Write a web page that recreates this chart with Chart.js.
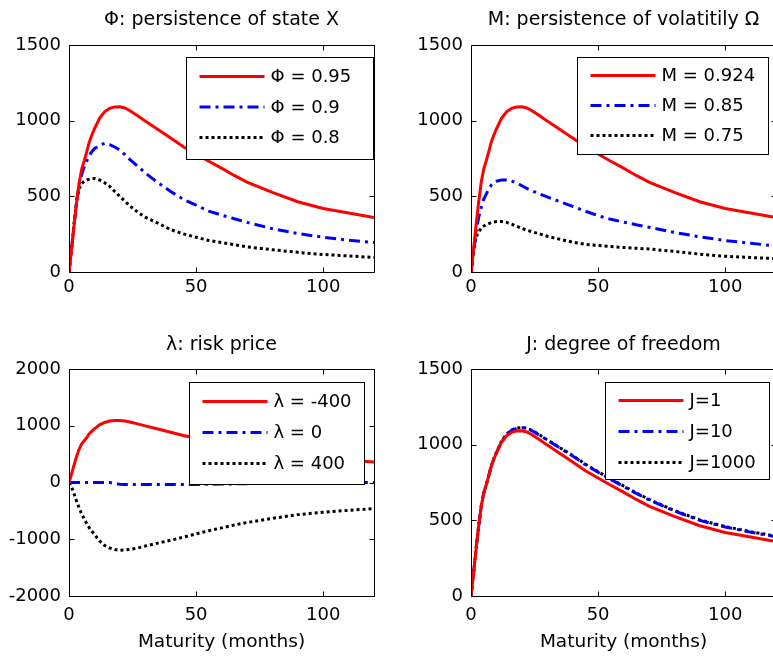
<!DOCTYPE html>
<html><head><meta charset="utf-8">
<script src="https://cdn.jsdelivr.net/npm/chart.js@4.4.1/dist/chart.umd.min.js"></script>
<style>
html,body{margin:0;padding:0;background:#fff;overflow:hidden;width:773px;height:656px;position:relative;}
.p{position:absolute;}
</style></head><body>
<div class="p" style="left:0;top:0;width:390px;height:320px"><canvas id="c1"></canvas></div>
<div class="p" style="left:390px;top:0;width:390px;height:320px"><canvas id="c2"></canvas></div>
<div class="p" style="left:0;top:320px;width:390px;height:336px"><canvas id="c3"></canvas></div>
<div class="p" style="left:390px;top:320px;width:390px;height:336px"><canvas id="c4"></canvas></div>
<script>
// ---- data ----
const maturities = [0,1,2,3,4,5,6,7,8,9,10,12,14,16,18,20,22,24,27,30,35,40,45,50,55,60,65,70,80,90,100,110,120];
// base case (red curve in every panel)
const baseCase = [0,150,310,460,590,680,735,795,860,905,945,1015,1058,1082,1091,1092,1084,1066,1033,997,942,886,828,780,732,686,638,594,526,464,420,390,360];
// panel 1: Phi
const phi09 = [0,150,310,470,580,645,695,735,770,795,815,838,850,842,826,806,776,742,700,655,590,532,480,442,402,376,352,328,286,254,230,210,195];
const phi08 = [0,150,320,470,550,585,600,608,614,618,618,608,590,566,532,500,468,436,396,362,322,280,252,230,208,195,180,166,147,130,116,106,96];
// panel 2: M
const m085 = [0,130,270,360,425,480,515,548,575,592,600,608,608,600,588,570,552,536,516,496,465,433,402,372,348,330,312,296,262,232,208,190,172];
const m075 = [0,140,230,265,290,303,313,320,327,331,333,334,328,316,302,288,276,266,252,236,216,197,183,175,168,162,157,152,136,118,104,96,88];
// panel 3: lambda
const lam0 = [0,0,0,0,0,0,0,0,0,0,0,0,0,0,-20,-30,-35,-35,-35,-35,-35,-35,-35,-35,-30,-28,-25,-20,-12,-5,0,0,0];
const lam400 = [0,-80,-200,-330,-450,-555,-645,-725,-800,-860,-915,-1030,-1110,-1155,-1182,-1194,-1190,-1178,-1155,-1120,-1068,-1018,-962,-905,-850,-800,-750,-705,-632,-566,-525,-490,-460];
// panel 4: J
const j10 = [0,150,310,460,590,680,735,795,860,905,945,1020,1068,1095,1108,1112,1108,1092,1062,1030,978,925,868,818,770,724,678,636,562,500,456,422,392];
const j1000 = [0,150,310,460,590,680,735,795,862,908,948,1022,1070,1097,1110,1113,1109,1094,1064,1032,980,928,871,821,773,727,681,639,565,503,459,425,395];

const titles = ['\u03A6: persistence of state X', 'M: persistence of volatitily \u03A9', '\u03BB: risk price', 'J: degree of freedom'];
const legendLabels = [
  ['\u03A6 = 0.95', '\u03A6 = 0.9', '\u03A6 = 0.8'],
  ['M = 0.924', 'M = 0.85', 'M = 0.75'],
  ['\u03BB = -400', '\u03BB = 0', '\u03BB = 400'],
  ['J=1', 'J=10', 'J=1000']
];
const yTicks = [[0,1500,500],[0,1500,500],[-2000,2000,1000],[0,1500,500]];
const xLabel = 'Maturity (months)';
const xMax = 120, xStep = 50;

// ---- styles ----
const FONT = '"DejaVu Sans", "Liberation Sans", Arial, sans-serif';
const styles = [
  {color:'#ff0000', dash:[]},
  {color:'#0000ff', dash:[11,5,3,5]},
  {color:'#000000', dash:[3,3]}
];

const frame = {
  id: 'matlabFrame',
  afterDatasetsDraw(chart, args, o) {
    const {ctx, chartArea: a, scales} = chart;
    ctx.save();
    ctx.strokeStyle = '#000'; ctx.lineWidth = 1; ctx.setLineDash([]);
    const L = Math.round(a.left)+0.5, R = Math.round(a.right)+0.5, T = Math.round(a.top)+0.5, B = Math.round(a.bottom)+0.5;
    ctx.beginPath();
    ctx.rect(L, T, R-L, B-T);
    const tl = 5;
    scales.x.ticks.forEach(t => {
      const px = Math.round(scales.x.getPixelForValue(t.value))+0.5;
      ctx.moveTo(px, B); ctx.lineTo(px, B-tl);
      ctx.moveTo(px, T); ctx.lineTo(px, T+tl);
    });
    scales.y.ticks.forEach(t => {
      const py = Math.round(scales.y.getPixelForValue(t.value))+0.5;
      ctx.moveTo(L, py); ctx.lineTo(L+tl, py);
      ctx.moveTo(R, py); ctx.lineTo(R-tl, py);
    });
    ctx.stroke();
    ctx.restore();
  },
  afterDraw(chart, args, o) {
    const {ctx, chartArea: a} = chart;
    ctx.save();
    // title centred over the plot box
    ctx.fillStyle = '#000';
    ctx.font = '19px ' + FONT;
    ctx.textAlign = 'center'; ctx.textBaseline = 'middle';
    ctx.fillText(o.title, (a.left + a.right)/2, o.titleY);
    // legend
    const g = o.legend;
    const bx = Math.round(a.left + g.x)+0.5, by = Math.round(a.top + g.y)+0.5;
    ctx.fillStyle = '#fff';
    ctx.fillRect(bx, by, g.w, g.h);
    ctx.strokeStyle = '#000'; ctx.lineWidth = 1; ctx.setLineDash([]);
    ctx.strokeRect(bx, by, g.w, g.h);
    ctx.font = '18px ' + FONT;
    chart.data.datasets.forEach((ds, i) => {
      const y = by + g.first + i*g.gap;
      ctx.beginPath();
      ctx.strokeStyle = ds.borderColor; ctx.lineWidth = ds.borderWidth;
      ctx.setLineDash(ds.borderDash || []);
      ctx.moveTo(bx+13, y); ctx.lineTo(bx+78, y);
      ctx.stroke();
      ctx.setLineDash([]);
      ctx.fillStyle = '#000';
      ctx.textAlign = 'left'; ctx.textBaseline = 'middle';
      ctx.fillText(ds.label, bx+84, y+1);
    });
    ctx.restore();
  }
};

function makeChart(id, idx, series, cfg) {
  const datasets = series.map((arr, i) => ({
    label: legendLabels[idx][i],
    data: maturities.map((m, k) => ({x: m, y: arr[k]})),
    borderColor: styles[i].color,
    borderDash: styles[i].dash,
    borderWidth: 3,
    borderCapStyle: 'butt',
    pointRadius: 0,
    tension: 0,
    fill: false
  }));
  const yt = yTicks[idx];
  return new Chart(document.getElementById(id), {
    type: 'line',
    data: {datasets},
    plugins: [frame],
    options: {
      responsive: true, maintainAspectRatio: false, animation: false,
      layout: {padding: {top: cfg.top, left: 0, right: cfg.right, bottom: 0}},
      plugins: {
        legend: {display: false}, tooltip: {enabled: false}, title: {display: false},
        matlabFrame: {title: titles[idx], titleY: cfg.titleY, legend: cfg.legend}
      },
      scales: {
        x: {
          type: 'linear', min: 0, max: xMax,
          grid: {display: false, drawTicks: false}, border: {display: false},
          ticks: {stepSize: xStep, includeBounds: false, color: '#000', padding: cfg.xPad, maxRotation: 0,
                  font: {family: FONT, size: 18}, callback: v => String(v)},
          title: cfg.xTitle ? {display: true, text: xLabel, color: '#000', padding: {top: 0, bottom: 3},
                  font: {family: FONT, size: 18.5}} : {display: false},
          afterFit: s => { s.height = cfg.xH; }
        },
        y: {
          type: 'linear', min: yt[0], max: yt[1],
          grid: {display: false, drawTicks: false}, border: {display: false},
          ticks: {stepSize: yt[2], color: '#000', padding: 8, font: {family: FONT, size: 18},
                  callback: v => String(v)},
          afterFit: s => { s.width = cfg.yW; }
        }
      }
    }
  });
}

makeChart('c1', 0, [baseCase, phi09, phi08], {top: 45, right: 16, yW: 69, xH: 48, xPad: 5, titleY: 20, xTitle: false,
  legend: {x: 117, y: 12, w: 187, h: 102, first: 19, gap: 30.5}});
makeChart('c2', 1, [baseCase, m085, m075], {top: 45, right: 4, yW: 81, xH: 48, xPad: 5, titleY: 20, xTitle: false,
  legend: {x: 106, y: 12, w: 191, h: 97, first: 18, gap: 30}});
makeChart('c3', 2, [baseCase, lam0, lam400], {top: 49, right: 16, yW: 69, xH: 60, xPad: 9, titleY: 25, xTitle: true,
  legend: {x: 120, y: 13, w: 175, h: 102, first: 19, gap: 31}});
makeChart('c4', 3, [baseCase, j10, j1000], {top: 49, right: 4, yW: 81, xH: 60, xPad: 9, titleY: 25, xTitle: true,
  legend: {x: 134, y: 13, w: 164, h: 97, first: 18, gap: 31}});
</script>
</body></html>
